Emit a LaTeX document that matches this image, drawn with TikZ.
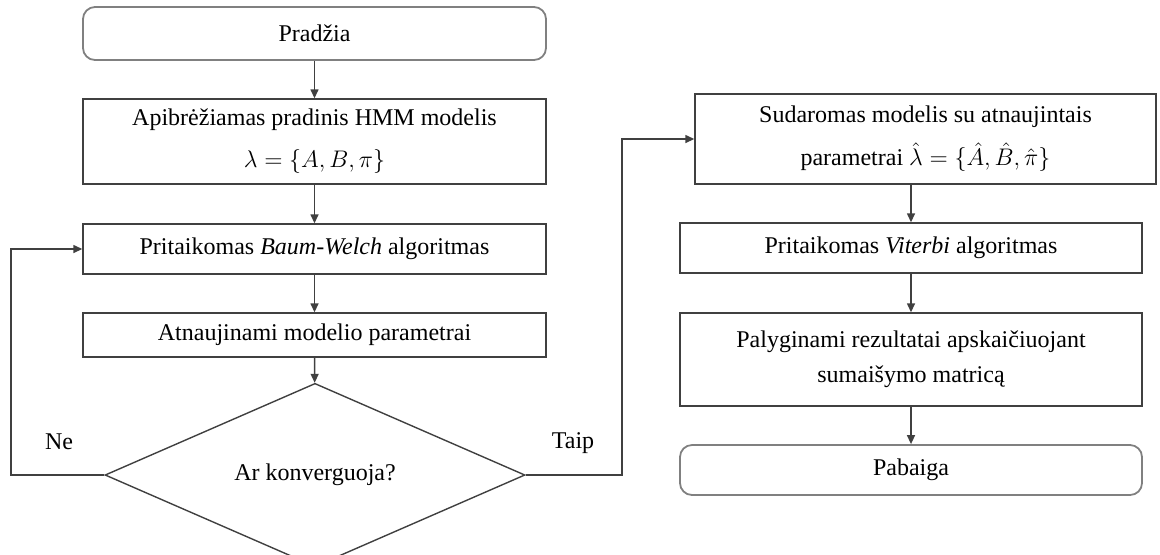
\documentclass[tikz,border=0pt]{standalone}
\usepackage{amsmath}
\usepackage{fontspec}
\setmainfont{Liberation Serif}
\usepackage{tikz}
\usetikzlibrary{arrows}
\usetikzlibrary{arrows.meta,positioning,shapes.geometric}
\tikzset{
  %Define standard arrow tip
  >={Triangle[length=4.5pt,width=4pt]},
  %Define style for boxes
  blokas/.style={
    rectangle,
    draw=black!75, line width=0.7pt,
    minimum width=231.5pt,
    inner sep=0pt,
    align=center,
    font=\fontsize{12}{17.5}\selectfont},
  % Define style for start and end boxes
  galas/.style={
    blokas,
    rounded corners=6pt,
    draw=black!50, line width=0.9pt},
  % Define style for the decision
  salyga/.style={
    diamond,
    draw=black!75, line width=0.7pt,
    minimum width=210pt,
    minimum height=78pt,
    inner sep=0pt,
    font=\fontsize{12}{17.5}\selectfont},
  % Define arrow style
  rodykle/.style={
    ->,
    draw=black!75,
    line width=0.7pt}
}

\begin{document}
\begin{tikzpicture}[x=0.5pt,y=-0.5pt]
      \useasboundingbox (0,0) rectangle (1160,554);
      % left column
      \node[galas, minimum height=26.5pt] (pradzia) at (314.5,33.5) {Pradžia};
      \node[blokas, minimum height=42.5pt] (modelis) at (314.5,141.5)
        {Apibrėžiamas pradinis HMM modelis\\[3.5pt] $\lambda=\{A,B,\pi\}$};
      \node[blokas, minimum height=25pt] (baum) at (314.5,249)
        {Pritaikomas \textit{Baum-Welch} algoritmas};
      \node[blokas, minimum height=22pt] (atnauj) at (314.5,335)
        {Atnaujinami modelio parametrai};
      \node[salyga] (konv) at (315,475) {Ar konverguoja?};
      % right column
      \node[blokas, minimum width=230.5pt, minimum height=45pt] (naujas) at (925.5,139)
        {Sudaromas modelis su atnaujintais\\[4pt] parametrai $\hat{\lambda}=\{\hat{A},\hat{B},\hat{\pi}\}$};
      \node[blokas, minimum width=231pt, minimum height=25pt] (viterbi) at (911,248)
        {Pritaikomas \textit{Viterbi} algoritmas};
      \node[blokas, minimum width=231pt, minimum height=46.5pt] (palyg) at (911,359.5)
        {Palyginami rezultatai apskaičiuojant\\ sumaišymo matricą};
      \node[galas, minimum width=231pt, minimum height=25pt] (pabaiga) at (911,470) {Pabaiga};
      % labels
      \node[font=\fontsize{12}{14}\selectfont] (ne) at (59,442) {Ne};
      \node[font=\fontsize{12}{14}\selectfont] (taip) at (573,443) {Taip};
      \coordinate (kairys) at (11,475);
      \coordinate (desinys) at (622,475);
      % arrows
      \draw[rodykle] (pradzia) -- (modelis);
      \draw[rodykle] (modelis) -- (baum);
      \draw[rodykle] (baum) -- (atnauj);
      \draw[rodykle] (atnauj) -- (konv);
      \draw[rodykle] (konv.west) -- (kairys) |- (baum.west);
      \draw[rodykle] (konv.east) -- (desinys) |- (naujas.west);
      \draw[rodykle] (naujas.south -| viterbi.north) -- (viterbi);
      \draw[rodykle] (viterbi) -- (palyg);
      \draw[rodykle] (palyg) -- (pabaiga);
    \end{tikzpicture}
\end{document}
